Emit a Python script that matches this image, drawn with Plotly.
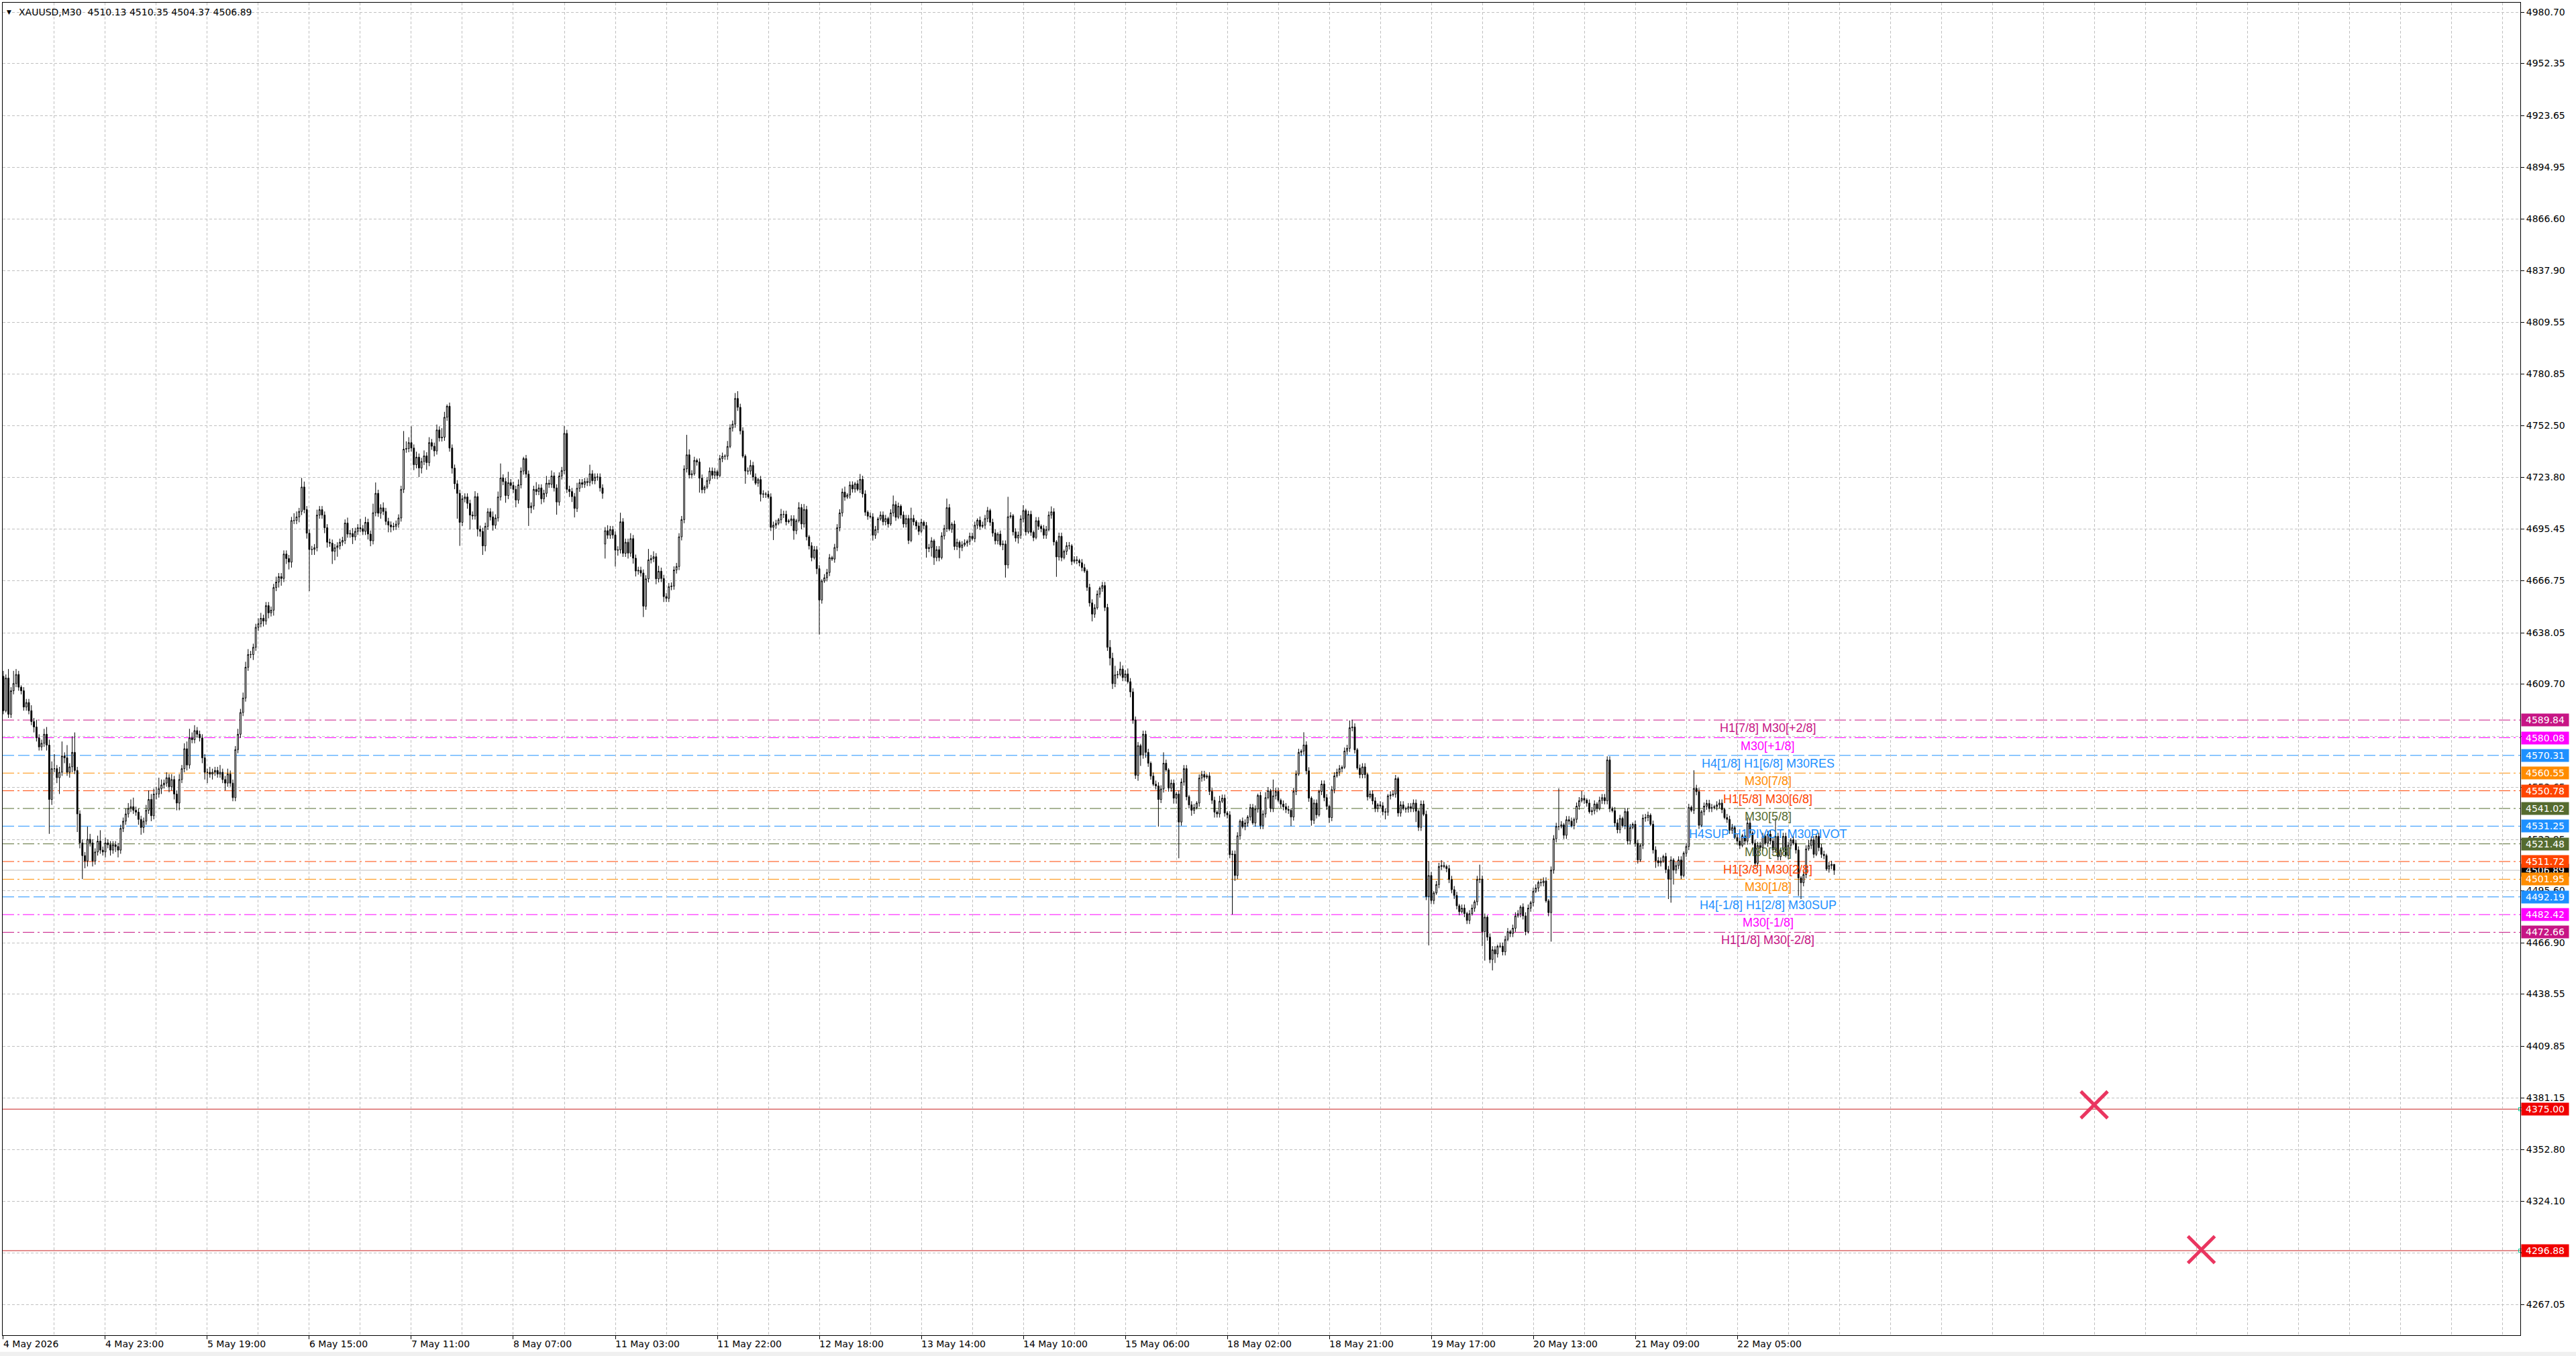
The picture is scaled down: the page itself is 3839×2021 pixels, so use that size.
import plotly.graph_objects as go

# XAUUSD M30 closes, one per bar (left to right)
close_px = [
    # 4 May - 6 May
    4595, 4613, 4593, 4606, 4610, 4615, 4608, 4606, 4597, 4599.5,
    4595, 4589, 4586, 4580, 4575, 4577, 4582, 4576, 4546, 4563,
    4563, 4558, 4561, 4570, 4569, 4561, 4564, 4572, 4562, 4538,
    4522, 4515, 4512, 4524, 4522, 4512, 4517, 4523, 4518, 4517,
    4522, 4521, 4518, 4521, 4520, 4518, 4530, 4534, 4538, 4541,
    4542, 4540, 4539, 4535, 4530.5, 4534, 4540, 4546, 4537, 4549,
    4549, 4552, 4554, 4555, 4558, 4553, 4557, 4549, 4544, 4557,
    4563, 4574, 4565, 4580, 4579, 4584, 4582, 4580, 4569, 4561,
    4561, 4560, 4561, 4562, 4560, 4561, 4557, 4555, 4560, 4555,
    4547, 4573.5, 4582, 4594, 4602, 4619, 4626, 4626, 4630, 4641,
    4643, 4646, 4644.5, 4653, 4649, 4650.5, 4663, 4666, 4669, 4668,
    4681.5, 4679, 4677, 4700, 4700, 4702, 4705, 4718.5, 4706, 4693,
    4684, 4684, 4685, 4703, 4706, 4703, 4696, 4688,
    # 6 May - 11 May
    4687.5, 4683, 4685, 4686, 4688, 4689, 4698.6, 4692.5, 4692.8, 4691,
    4694, 4696, 4695.5, 4694, 4699, 4692.5, 4688.8, 4704.3, 4715, 4704,
    4707, 4705, 4699.5, 4697.5, 4696.5, 4696.8, 4698, 4701.4, 4717.2, 4739.4,
    4739.7, 4743, 4740, 4730.8, 4735, 4729, 4732.6, 4735.7, 4732, 4743,
    4741, 4738.4, 4750, 4745.6, 4746, 4757, 4763.1, 4740, 4728.9, 4720.3,
    4715, 4699, 4712, 4713, 4709.5, 4703, 4702.5, 4713.2, 4695.2, 4694,
    4686, 4696.8, 4704.8, 4702, 4697.4, 4701.4, 4713, 4723.5, 4721.5, 4713.8,
    4720.9, 4719.4, 4717.2, 4711.3, 4719.7, 4727.3, 4734.2, 4725.6, 4707, 4708,
    4717.2, 4716, 4718, 4712, 4715, 4720.6, 4720, 4724.6, 4718, 4710.2,
    4724.6, 4727.6, 4748.1, 4717.2, 4716, 4713.2, 4706.7, 4717.8, 4720.9, 4720,
    4721.5, 4721, 4725.8, 4722, 4724, 4724, 4718, 4715, 4694.4, 4691.9,
    4695, 4692, 4683.6, 4683.8, 4699.3, 4681.9, 4688, 4682, 4690, 4679.2,
    4672.1, 4672.5, 4671, 4652.7, 4667.8, 4678.3, 4679, 4680, 4667.8, 4672,
    4668, 4658, 4657, 4663.5, 4663.8, 4672.7, 4674.6, 4691, 4700.5, 4728.5, 4736.3,
    # 11 May - 15 May
    4725.2, 4725.8, 4733.2, 4732.3, 4723.4, 4717, 4718.4, 4722.1, 4727.3, 4725,
    4727, 4724.8, 4734.2, 4735.5, 4735.5, 4740.9, 4751.1, 4753.2, 4767.4, 4762.5,
    4749.5, 4735.5, 4727.3, 4727.3, 4730.4, 4724, 4720.6, 4722.6, 4714.5, 4714.7,
    4714.5, 4713, 4696.2, 4697.4, 4698.4, 4700.4, 4703.4, 4703.4, 4699.3, 4699.9,
    4700.9, 4694.4, 4699.9, 4707.1, 4698.1, 4706.1, 4691, 4686, 4679.5, 4683.9,
    4673.4, 4656.1, 4666.6, 4668.4, 4671.3, 4679.5, 4678.7, 4685.1, 4696, 4704.2,
    4715.7, 4712.9, 4714.1, 4719.6, 4717.4, 4720.3, 4717.2, 4722.7, 4714.7, 4704.6,
    4702.4, 4702, 4691.9, 4695, 4700.9, 4703, 4699.3, 4701.1, 4698.1, 4704.2,
    4708.8, 4701.8, 4707.9, 4703, 4698.1, 4701.1, 4689, 4701.1, 4699.3, 4697,
    4694, 4699, 4697.2, 4684.5, 4685.1, 4688.8, 4679.5, 4683.9, 4679.5, 4691.5,
    4695.6, 4707.1, 4695.2, 4698, 4685.7, 4688, 4685.1, 4686.6, 4687.6, 4688.5,
    4691.3, 4690, 4697.4, 4700.2, 4696.8, 4697.4, 4701.1, 4705.5, 4699, 4693.1,
    4688.8, 4692.5, 4686.6, 4687, 4675.5, 4702.1, 4702.6, 4693.7, 4690.3, 4691.9,
    4700.9, 4705.5, 4693.7, 4703.4, 4693.5, 4690.6, 4699.9, 4696.8, 4695.5, 4691.9,
    4695, 4703, 4704.8, 4688.2, 4679.9, 4691.3, 4679.5, 4683, 4686.1, 4686,
    4677.4, 4678.3, 4677.9, 4676.7, 4674, 4672.1, 4663.1, 4654.5, 4648.3, 4651.8,
    4659.4, 4662.6, 4664.1, 4652, 4630,
    # 15 May - 19 May
    4624, 4610, 4614.8, 4615, 4618, 4613.3, 4615.3, 4611, 4605.4, 4589.8,
    4559.3, 4575.7, 4570.5, 4582, 4572, 4566, 4558.9, 4554.4, 4553.5, 4546,
    4551.8, 4566, 4562.3, 4552.3, 4555, 4546.7, 4549, 4533.5, 4555.6, 4563,
    4547.5, 4543, 4540, 4541.5, 4544, 4557.8, 4559.8, 4558.3, 4559, 4550.4,
    4545.5, 4539, 4538, 4545, 4546.7, 4538.5, 4537.5, 4515.5, 4515.8, 4504,
    4525.9, 4534, 4531, 4533, 4536.3, 4541.5, 4533, 4540.7, 4548.2, 4531.6,
    4538, 4547, 4550.8, 4541, 4548, 4550.4, 4545.5, 4543.4, 4542, 4540.5,
    4540, 4536.3, 4550.4, 4560, 4572, 4572.7, 4576.1, 4561.8, 4546.7, 4534.5,
    4544, 4537.5, 4550.4, 4554.5, 4547, 4542.2, 4536, 4551.4, 4559, 4561,
    4563, 4563.8, 4572.7, 4574.2, 4585.6, 4586, 4573.4, 4563.3, 4559.7, 4564,
    4559.7, 4547.4, 4549, 4545.2, 4541, 4543, 4542.5, 4539.2, 4539, 4548,
    4548.5, 4549, 4557.5, 4538.5, 4543, 4541, 4540.7, 4542, 4541, 4544,
    4539.5, 4530.6, 4543.4, 4537.8, 4492.4, 4504, 4490.2, 4494.4, 4499, 4509,
    4509.5, 4509, 4507.8, 4501.8, 4496.2, 4493,
    # 19 May - 22 May
    4487.3, 4484, 4486, 4483, 4479.2, 4482.9, 4486, 4489.5, 4501.8, 4502,
    4473, 4481, 4470, 4457.6, 4463, 4460.7, 4464.9, 4465, 4461.9, 4468.7,
    4473, 4472, 4474.9, 4481.7, 4482.9, 4486.6, 4481.7, 4473, 4486, 4489,
    4495.3, 4497.1, 4500.2, 4500, 4501, 4490, 4483.5, 4507, 4524.3, 4531.1,
    4531, 4532, 4526.2, 4534.8, 4534, 4531.5, 4535, 4542.3, 4545.3, 4546.6,
    4545.6, 4544, 4539.2, 4539.8, 4543.5, 4541, 4545.5, 4547, 4545.3, 4567.8,
    4541, 4539.8, 4533, 4529.3, 4535.5, 4531.5, 4539.3, 4523.1, 4530.5, 4532.3,
    4521.8, 4512.6, 4520.6, 4535.7, 4536, 4537.3, 4532.3, 4518.1, 4512.2, 4511,
    4512, 4514.5, 4507.3, 4502, 4512.6, 4507, 4509.5, 4512.6, 4504, 4516.3,
    4520, 4541.6, 4540, 4552.1, 4550.3, 4531.7, 4539.2, 4542.3, 4543.8, 4541,
    4541.5, 4542, 4543, 4544, 4540.4, 4536, 4535, 4529, 4530.5, 4525,
    4523, 4520.6, 4526, 4523, 4533, 4527.4, 4521.8, 4510.7, 4520.6, 4519.4,
    4525.6, 4521.8, 4526.8, 4523.1, 4518.1, 4525.6, 4514.4, 4518.1, 4525.6, 4515,
    4520.6, 4523.7, 4521.8, 4518.1, 4502.7, 4500, 4504.5, 4518.7, 4520.6, 4523.7,
    4515.7, 4525.6, 4519.4, 4515.7, 4515, 4507.6, 4509.5, 4510.13, 4506.89,
]

# upper / lower wick length of each candle (price units)
wick_up = [
    3, 2, 5, 2, 7, 3, 2, 1, 2, 2,
    2, 3, 2, 4, 2, 2, 3, 4, 3, 4,
    8, 2, 3, 8, 2, 7, 2, 9, 11, 2,
    2, 2, 2, 7, 3, 2, 2, 3, 6, 2,
    3, 2, 2, 2, 2, 2, 2, 2, 3, 3,
    4, 5, 2, 2, 2, 2, 3, 5, 3, 3,
    4, 6, 3, 2, 3, 2, 3, 2, 2, 3,
    2, 3, 4, 5, 3, 3, 2, 2, 2, 2,
    2, 3, 2, 2, 2, 4, 2, 2, 3, 2,
    2, 2, 3, 2, 3, 3, 3, 2, 2, 2,
    3, 3, 2, 2, 2, 2, 2, 3, 2, 2,
    2, 2, 2, 2, 4, 3, 2, 5, 3, 2,
    2, 2, 2, 3, 2, 2, 2, 2,
    2, 2, 2, 2, 2, 2, 2, 3, 2, 3,
    2, 2, 5, 2, 3, 2, 2, 5, 6, 2,
    2, 3, 2, 2, 2, 2, 2, 2, 2, 10,
    4, 3, 9, 2, 3, 2, 2, 3, 2, 3,
    2, 2, 3, 2, 5, 3, 1, 2, 2, 2,
    2, 2, 2, 2, 2, 2, 2, 3, 2, 2,
    2, 2, 2, 2, 3, 2, 3, 8, 2, 2,
    6, 2, 2, 2, 3, 2, 1, 2, 2, 2,
    2, 4, 2, 2, 2, 4, 2, 3, 2, 2,
    2, 2, 4, 2, 2, 2, 2, 3, 2, 2,
    2, 2, 5, 2, 2, 2, 2, 2, 2, 3,
    2, 2, 2, 2, 5, 2, 2, 2, 3, 2,
    2, 2, 2, 2, 2, 6, 2, 3, 2, 3,
    2, 2, 2, 2, 2, 2, 2, 2, 2, 2, 11,
    3, 2, 2, 1, 2, 2, 1, 2, 2, 2,
    2, 1, 2, 2, 1, 3, 2, 2, 3, 4,
    2, 2, 1, 2, 3, 2, 2, 1, 2, 2,
    1, 2, 2, 2, 2, 1, 3, 2, 2, 1,
    2, 2, 1, 3, 2, 3, 2, 1, 2, 2,
    2, 2, 1, 2, 2, 2, 1, 2, 2, 2,
    2, 3, 1, 2, 2, 1, 2, 3, 2, 2,
    1, 2, 2, 2, 1, 2, 2, 2, 1, 2,
    5, 2, 2, 1, 2, 2, 2, 6, 2, 1,
    2, 2, 1, 2, 2, 2, 1, 2, 2, 2,
    2, 5, 2, 1, 2, 2, 1, 2, 2, 1,
    2, 2, 2, 1, 2, 2, 2, 2, 1, 2,
    2, 1, 2, 2, 2, 11, 2, 1, 2, 2,
    2, 3, 1, 2, 2, 1, 2, 2, 1, 2,
    2, 2, 3, 2, 1, 2, 2, 1, 2, 2,
    1, 2, 2, 1, 2, 2, 1, 2, 2, 2,
    2, 1, 2, 2, 2,
    4, 3, 5, 2, 4, 2, 2, 3, 2, 2,
    2, 2, 1, 2, 2, 2, 1, 2, 2, 2,
    2, 6, 2, 1, 2, 2, 1, 2, 2, 2,
    2, 1, 2, 2, 1, 2, 2, 2, 1, 2,
    2, 2, 1, 3, 2, 2, 1, 2, 2, 2,
    2, 1, 2, 2, 1, 2, 2, 2, 1, 2,
    2, 3, 2, 1, 9, 2, 2, 1, 2, 2,
    2, 1, 2, 2, 2, 1, 7, 2, 2, 1,
    2, 2, 1, 2, 2, 2, 1, 2, 2, 2,
    2, 1, 2, 2, 4, 4, 2, 1, 2, 2,
    2, 1, 2, 2, 2, 1, 2, 2, 2, 1,
    2, 2, 2, 1, 2, 2, 1, 2, 2, 2,
    2, 1, 2, 2, 2, 8, 2, 1, 2, 2,
    3, 2, 1, 2, 2, 2,
    2, 1, 2, 2, 1, 2, 2, 1, 2, 8,
    2, 2, 1, 2, 2, 2, 1, 2, 2, 2,
    2, 1, 2, 2, 2, 1, 2, 2, 2, 1,
    2, 2, 1, 2, 2, 2, 1, 2, 2, 2,
    21, 2, 1, 2, 2, 2, 1, 2, 2, 4,
    2, 1, 2, 2, 2, 1, 2, 2, 2, 2,
    2, 1, 2, 2, 2, 1, 2, 2, 2, 1,
    2, 2, 1, 2, 2, 2, 1, 2, 2, 2,
    2, 1, 2, 2, 2, 1, 2, 2, 2, 1,
    2, 2, 1, 10, 2, 2, 1, 2, 2, 2,
    2, 1, 2, 2, 2, 1, 2, 2, 2, 1,
    2, 2, 1, 2, 3, 2, 1, 2, 2, 2,
    2, 1, 2, 2, 2, 10, 2, 1, 2, 2,
    2, 1, 2, 2, 2, 1, 2, 2, 3, 2,
    2, 1, 2, 2, 2, 1, 2, 2, 0.22,
]

wick_down = [
    2, 1, 2, 2, 2, 2, 2, 2, 2, 2,
    2, 2, 3, 2, 2, 2, 2, 3, 19, 3,
    2, 3, 9, 2, 3, 2, 3, 3, 2, 10,
    3, 13, 4, 3, 2, 3, 2, 2, 2, 2,
    3, 2, 3, 2, 3, 4, 2, 2, 2, 2,
    2, 2, 2, 3, 4, 3, 2, 2, 3, 2,
    3, 2, 3, 2, 2, 3, 2, 3, 4, 4,
    2, 2, 3, 2, 2, 2, 2, 2, 3, 4,
    6, 2, 3, 2, 2, 2, 2, 4, 2, 2,
    2, 2, 2, 2, 2, 2, 2, 2, 3, 2,
    2, 2, 3, 2, 3, 2, 3, 2, 3, 4,
    2, 3, 4, 3, 2, 2, 3, 2, 2, 3,
    23, 3, 3, 2, 2, 2, 3, 3,
    2, 7, 5, 5, 2, 2, 2, 2, 2, 4,
    2, 2, 2, 2, 2, 3, 3, 2, 2, 2,
    3, 2, 2, 4, 3, 2, 2, 2, 2, 2,
    2, 2, 2, 3, 2, 5, 3, 2, 4, 2,
    2, 3, 2, 2, 2, 2, 2, 2, 3, 3,
    14, 13, 2, 2, 3, 8, 2, 2, 4, 3,
    5, 3, 2, 2, 3, 2, 2, 2, 2, 4,
    2, 2, 2, 4, 2, 2, 2, 2, 10, 3,
    2, 2, 2, 3, 2, 2, 2, 2, 2, 7,
    2, 2, 2, 2, 3, 3, 5, 2, 2, 2,
    2, 2, 2, 2, 2, 2, 2, 3, 8, 2,
    2, 2, 9, 3, 2, 2, 2, 3, 2, 3,
    3, 2, 2, 6, 2, 2, 2, 2, 3, 2,
    2, 3, 2, 2, 2, 2, 2, 2, 2, 2, 2,
    2, 2, 1, 2, 8, 2, 2, 1, 2, 2,
    2, 2, 1, 2, 2, 2, 1, 2, 2, 2,
    2, 1, 7, 2, 2, 2, 1, 2, 4, 2,
    2, 1, 2, 7, 2, 1, 2, 2, 2, 1,
    3, 5, 2, 1, 3, 2, 2, 2, 2, 1,
    3, 19, 2, 1, 2, 2, 1, 2, 2, 2,
    2, 2, 1, 2, 2, 2, 1, 2, 2, 2,
    2, 1, 3, 2, 2, 1, 2, 2, 2, 1,
    2, 2, 1, 2, 2, 2, 2, 1, 2, 2,
    2, 1, 2, 5, 2, 5, 4, 2, 2, 1,
    2, 2, 1, 2, 2, 2, 6, 2, 1, 2,
    2, 1, 2, 2, 2, 1, 2, 2, 2, 2,
    2, 2, 1, 3, 7, 2, 1, 2, 2, 3,
    2, 2, 2, 1, 2, 2, 1, 2, 2, 2,
    2, 1, 2, 2, 11, 2, 2, 1, 2, 2,
    2, 1, 2, 2, 2, 1, 2, 2, 4, 2,
    1, 2, 2, 2, 2,
    4, 3, 2, 2, 1, 2, 2, 1, 3, 2,
    2, 3, 6, 2, 3, 2, 2, 1, 2, 15,
    2, 2, 1, 2, 2, 3, 3, 20, 2, 2,
    2, 2, 3, 2, 1, 2, 2, 2, 1, 2,
    2, 3, 2, 2, 1, 2, 2, 2, 33, 3,
    2, 2, 1, 2, 2, 2, 1, 2, 2, 2,
    2, 2, 1, 2, 2, 2, 1, 2, 2, 2,
    2, 5, 2, 2, 1, 2, 2, 2, 2, 3,
    2, 2, 1, 2, 2, 2, 3, 2, 2, 1,
    2, 2, 1, 2, 2, 2, 2, 1, 2, 2,
    2, 2, 1, 2, 2, 2, 1, 2, 4, 2,
    2, 1, 2, 2, 2, 1, 2, 2, 2, 2,
    6, 2, 2, 1, 2, 27, 2, 2, 1, 2,
    2, 1, 2, 2, 2, 2,
    2, 2, 1, 2, 2, 2, 1, 2, 2, 2,
    8, 16, 2, 2, 6, 5, 2, 1, 2, 2,
    1, 2, 2, 2, 1, 2, 2, 2, 1, 2,
    2, 1, 2, 2, 2, 1, 2, 16, 2, 2,
    2, 1, 2, 2, 2, 1, 2, 2, 2, 1,
    2, 2, 1, 2, 2, 2, 1, 2, 2, 2,
    2, 1, 2, 2, 2, 1, 2, 2, 2, 1,
    2, 2, 1, 2, 2, 2, 1, 2, 4, 2,
    2, 1, 2, 11, 13, 8, 2, 2, 2, 1,
    2, 2, 1, 2, 2, 2, 1, 2, 2, 2,
    2, 1, 2, 2, 2, 1, 2, 2, 2, 1,
    2, 2, 1, 2, 2, 2, 1, 2, 2, 2,
    2, 1, 2, 2, 2, 1, 2, 2, 2, 1,
    2, 2, 1, 2, 10, 9, 2, 2, 1, 2,
    2, 1, 2, 2, 2, 1, 2, 2, 2.52,
]

first_open = 4614
gap_opens = {236: 4687}  # Monday open after the weekend

# murrey math levels drawn by the indicator
level_prices = [4589.84, 4580.08, 4570.31, 4560.55, 4550.78, 4541.02, 4531.25,
                4521.48, 4511.72, 4501.95, 4492.19, 4482.42, 4472.66]
level_names = ["H1[7/8] M30[+2/8]", "M30[+1/8]", "H4[1/8] H1[6/8] M30RES", "M30[7/8]",
               "H1[5/8] M30[6/8]", "M30[5/8]", "H4SUP H1PIVOT M30PIVOT", "M30[3/8]",
               "H1[3/8] M30[2/8]", "M30[1/8]", "H4[-1/8] H1[2/8] M30SUP", "M30[-1/8]",
               "H1[1/8] M30[-2/8]"]
level_colors = ["#C71585", "#FF00FF", "#1E90FF", "#FF8C00", "#FF4500", "#556B2F", "#1E90FF",
                "#556B2F", "#FF4500", "#FF8C00", "#1E90FF", "#FF00FF", "#C71585"]

target_prices = [4375.00, 4296.88]
cross_bars = [820, 862]
cross_prices = [4377.4, 4297.4]

price_ticks = [4980.70, 4952.35, 4923.65, 4894.95, 4866.60, 4837.90, 4809.55, 4780.85,
               4752.50, 4723.80, 4695.45, 4666.75, 4638.05, 4609.70, 4581.00, 4552.65,
               4523.95, 4495.60, 4466.90, 4438.55, 4409.85, 4381.15, 4352.80, 4324.10,
               4295.75, 4267.05]

date_labels = ["4 May 2026", "4 May 23:00", "5 May 19:00", "6 May 15:00", "7 May 11:00",
               "8 May 07:00", "11 May 03:00", "11 May 22:00", "12 May 18:00", "13 May 14:00",
               "14 May 10:00", "15 May 06:00", "18 May 02:00", "18 May 21:00", "19 May 17:00",
               "20 May 13:00", "21 May 09:00", "22 May 05:00"]

assert len(close_px) == len(wick_up) == len(wick_down), (len(close_px), len(wick_up), len(wick_down))

bars = list(range(len(close_px)))
opens = [first_open] + close_px[:-1]
for b, o in gap_opens.items():
    opens[b] = o
highs = [max(o, c) + w for o, c, w in zip(opens, close_px, wick_up)]
lows = [min(o, c) - w for o, c, w in zip(opens, close_px, wick_down)]
tick_bars = [40 * i for i in range(len(date_labels))]

AX_FONT = dict(family="DejaVu Sans", size=14, color="black")
GRID = "#C0C0C0"
X_RANGE = [-0.26, 987.1]

fig = go.Figure()

fig.add_trace(go.Candlestick(
    x=bars, open=opens, high=highs, low=lows, close=close_px,
    increasing=dict(line=dict(color="black", width=1), fillcolor="white"),
    decreasing=dict(line=dict(color="black", width=1), fillcolor="black"),
    whiskerwidth=0, hoverinfo="skip", showlegend=False,
))

# red crosses
fig.add_trace(go.Scatter(
    x=cross_bars, y=cross_prices, mode="markers", hoverinfo="skip", showlegend=False,
    marker=dict(symbol="x-thin", size=40, line=dict(width=5, color="#EA3560")),
))
# little squares where the red lines meet the price scale
fig.add_trace(go.Scatter(
    x=[X_RANGE[1]] * len(target_prices), y=target_prices, mode="markers", cliponaxis=False,
    hoverinfo="skip", showlegend=False,
    marker=dict(symbol="square-open", size=5, line=dict(width=1, color="#D01010")),
))

shapes = []
for p, c, name in zip(level_prices, level_colors, level_names):
    dash = "17px,6px" if c == "#1E90FF" else "17px,5px,3px,5px"
    shapes.append(dict(type="line", xref="paper", x0=0, x1=1, yref="y", y0=p, y1=p,
                       line=dict(color=c, width=1, dash=dash), layer="between"))
for p in target_prices:
    shapes.append(dict(type="line", xref="paper", x0=0, x1=1, yref="y", y0=p, y1=p,
                       line=dict(color="#C81E1E", width=1), layer="between"))
# bid line
shapes.append(dict(type="line", xref="paper", x0=0, x1=1, yref="y", y0=close_px[-1], y1=close_px[-1],
                   line=dict(color="#C0C0C0", width=1), layer="between"))
# grey strip at the very bottom of the window
shapes.append(dict(type="rect", xref="paper", yref="paper", x0=-0.002, x1=1.03, y0=-0.0125, y1=-0.017,
                   fillcolor="#F0F0F0", line=dict(width=0), layer="below"))

annotations = []
# header
annotations.append(dict(xref="paper", yref="paper", x=0, y=1, xanchor="left", yanchor="top",
                        xshift=4, yshift=-7, text="\u25BC", showarrow=False,
                        font=dict(family="DejaVu Sans", size=9, color="black")))
annotations.append(dict(xref="paper", yref="paper", x=0, y=1, xanchor="left", yanchor="top",
                        xshift=22, yshift=-4, showarrow=False, font=AX_FONT,
                        text="XAUUSD,M30\u00a0 %.2f %.2f %.2f %.2f" % (opens[-1], highs[-1], lows[-1], close_px[-1])))

# date labels, left aligned on their tick like the terminal does
for b, t in zip(tick_bars, date_labels):
    annotations.append(dict(x=b, xref="x", y=0, yref="paper", xanchor="left", yanchor="top",
                            xshift=-2, yshift=-3, text=t, showarrow=False, font=AX_FONT))

# level names in the middle of the last session
for p, c, name in zip(level_prices, level_colors, level_names):
    annotations.append(dict(x=692, xref="x", y=p, yref="y", xanchor="center", yanchor="top",
                            yshift=0, text=name, showarrow=False,
                            font=dict(family="Liberation Sans", size=18, color=c)))

# price tags on the scale
def price_tag(p, bg):
    return dict(xref="paper", x=1, yref="y", y=p, xanchor="left", yanchor="middle", xshift=1,
                text="%.2f" % p, showarrow=False, bgcolor=bg, width=68, height=16, borderpad=1,
                font=dict(family="DejaVu Sans", size=14, color="white"))

annotations.append(price_tag(close_px[-1], "black"))
for p, c in zip(level_prices, level_colors):
    annotations.append(price_tag(p, c))
for p in target_prices:
    annotations.append(price_tag(p, "#F00000"))

fig.update_layout(
    width=3839, height=2021,
    margin=dict(l=4, r=83, t=4, b=31),
    paper_bgcolor="white", plot_bgcolor="white",
    showlegend=False,
    shapes=shapes, annotations=annotations,
    xaxis=dict(
        range=X_RANGE, rangeslider=dict(visible=False), zeroline=False,
        tickvals=tick_bars, showticklabels=False,
        ticks="outside", ticklen=5, tickcolor="black",
        showgrid=True, gridcolor=GRID, griddash="4px,3px", gridwidth=1,
        minor=dict(dtick=20, tick0=0, showgrid=True, gridcolor=GRID, griddash="4px,3px", ticks=""),
        showline=True, mirror=True, linecolor="black", linewidth=1,
    ),
    yaxis=dict(
        side="right", range=[4250.2, 4985.9], zeroline=False,
        tickvals=price_ticks, ticktext=["%.2f" % v for v in price_ticks],
        ticks="outside", ticklen=5, tickcolor="black", tickfont=AX_FONT,
        showgrid=True, gridcolor=GRID, griddash="4px,3px", gridwidth=1,
        showline=True, mirror=True, linecolor="black", linewidth=1,
    ),
)

fig.write_html("out.html", config={"displayModeBar": False},
               post_script="document.body.style.margin='0';document.body.style.overflow='hidden';")
